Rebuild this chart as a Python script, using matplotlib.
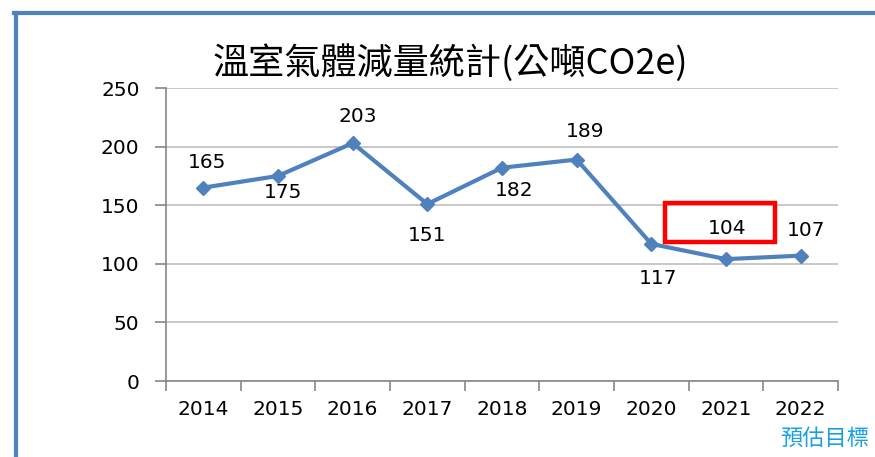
import matplotlib.pyplot as plt
from matplotlib.patches import Rectangle
from matplotlib.lines import Line2D

plt.rcParams['font.family'] = ['Noto Sans CJK TC', 'DejaVu Sans']

# data
years = ["2014", "2015", "2016", "2017", "2018", "2019", "2020", "2021", "2022"]
reduction = [165, 175, 203, 151, 182, 189, 117, 104, 107]
# label offsets in pixels (dx, dy), dy positive = up
label_offsets = [(4, 25), (5, -17), (5, 27), (0, -31), (12, -23), (8, 28), (7, -35), (0, 0), (5, 25)]

blue = "#4F81BD"
grid_gray = "#BFBFBF"
axis_gray = "#868686"
num_size = 14.5

fig = plt.figure(figsize=(8.75, 4.57), dpi=100)
ax = fig.add_axes([0.1897, 0.1663, 0.768, 0.641])

x = list(range(len(years)))
ax.plot(x, reduction, color=blue, lw=3, marker="D", ms=7, zorder=3)

for i, (v, (dx, dy)) in enumerate(zip(reduction, label_offsets)):
    if i == 7:
        continue
    ax.annotate(str(v), (i, v), xytext=(dx, dy), textcoords="offset pixels",
                ha="center", va="center", fontsize=num_size, family="DejaVu Sans")

# highlighted 2021 label with red frame
ax.text(7.02, 130.5, str(reduction[7]), ha="center", va="center", fontsize=num_size,
        family="DejaVu Sans")
ax.add_patch(Rectangle((6.18, 118.6), 1.47, 33.3, fill=False, ec="#FF0000",
                       lw=3.2, clip_on=False, zorder=4))

ax.set_xlim(-0.5, len(years) - 0.5)
ax.set_ylim(0, 250)
ax.set_yticks(range(0, 251, 50))
ax.set_xticks(x)
ax.set_xticklabels(years)
ax.set_xticks([i - 0.5 for i in range(len(years) + 1)], minor=True)
ax.tick_params(axis="x", which="major", length=0, pad=14, labelsize=num_size)
ax.tick_params(axis="x", which="minor", length=7, color=axis_gray, width=1.2)
ax.tick_params(axis="y", length=8, color=axis_gray, width=1.2, pad=11, labelsize=num_size)
for lab in ax.get_xticklabels() + ax.get_yticklabels():
    lab.set_family("DejaVu Sans")

ax.yaxis.grid(True, color=grid_gray, lw=1.2)
ax.set_axisbelow(True)
for s in ["top", "right"]:
    ax.spines[s].set_visible(False)
for s in ["left", "bottom"]:
    ax.spines[s].set_color(axis_gray)
    ax.spines[s].set_linewidth(1.2)

fig.text(0.515, 0.862, "溫室氣體減量統計(公噸CO2e)", ha="center", va="center",
         fontsize=26)
fig.text(0.993, 0.04, "預估目標", ha="right", va="center", fontsize=16,
         color="#1AA0E0")

# blue frame on left and top
fig.add_artist(Line2D([0.0183, 0.0183], [0, 0.972], color=blue, lw=3,
                      transform=fig.transFigure))
fig.add_artist(Line2D([0.0165, 1.0], [0.972, 0.972], color=blue, lw=3,
                      transform=fig.transFigure))

plt.savefig("out.png", dpi=100)
